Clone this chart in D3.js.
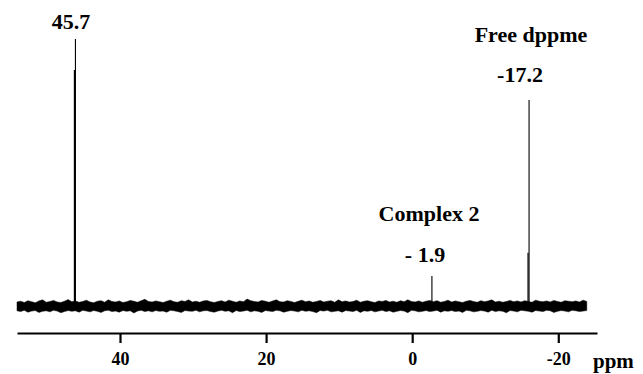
<!DOCTYPE html>
<html>
<head>
<meta charset="utf-8">
<script src="https://cdn.jsdelivr.net/npm/d3@7"></script>
<style>
    html, body { margin: 0; padding: 0; background: #fff; }
    svg { display: block; }
    text { font-family: "Liberation Serif", Tinos, "Times New Roman", Times, "Nimbus Roman", "DejaVu Serif", serif; font-weight: bold; fill: #000; }
</style>
</head>
<body>
<svg id="chart"></svg>
<script>
// axis ticks (ppm) and their labels
const tickValues = [40, 20, 0, -20];
const tickLabels = ['40', '20', '0', '-20'];

// signals: shift where the line is drawn, height (% of tallest), shoulder line height
const peakShift = [46.1, -2.7, -16.0];
const peakHeight = [100, 11.2, 77.2];
const shoulderHeight = [88.4, 0, 19.9];
const peakLabels = ['45.7', '- 1.9', '-17.2'];
const groupLabels = ['', 'Complex 2', 'Free dppme'];

// baseline noise envelope, one value every 0.5 ppm starting at 54.1 ppm
const noiseStart = 54.1;
const noiseStep = 0.5;
const noiseUpper = [
    1.5, 1.8, 1.3, 2.0, 1.6, 1.2, 1.9, 2.3, 1.4, 1.7, 2.1, 1.5, 1.3, 1.8, 2.4, 1.6, 1.9, 1.4, 1.7, 2.2,
    1.5, 1.2, 1.8, 2.0, 1.4, 2.3, 1.7, 1.5, 1.9, 1.3, 1.6, 2.1, 1.8, 1.4, 2.0, 2.5, 1.7, 1.5, 1.9, 1.6,
    1.3, 1.8, 2.2, 1.6, 1.4, 2.0, 1.7, 2.3, 1.5, 1.8, 1.4, 1.9, 2.1, 1.6, 1.3, 1.7, 2.0, 1.5, 2.2, 1.8,
    1.4, 1.9, 1.6, 2.6, 2.0, 1.7, 1.5, 2.1, 1.8, 1.4, 1.9, 2.3, 1.6, 1.5, 2.0, 1.7, 1.3, 1.8, 2.2, 1.6,
    1.9, 1.4, 1.7, 2.1, 1.5, 1.8, 2.0, 1.4, 2.3, 1.6, 1.9, 1.5, 1.7, 2.2, 1.4, 1.8, 2.0, 1.6, 1.3, 1.9,
    1.7, 2.1, 1.5, 1.8, 1.4, 2.0, 1.6, 2.3, 1.7, 1.5, 1.9, 1.4, 1.8, 2.1, 1.6, 2.0, 1.4, 1.7, 2.2, 1.5,
    1.9, 1.6, 1.3, 1.8, 2.1, 1.7, 1.4, 2.0, 1.6, 1.9, 2.3, 1.5, 1.8, 1.4, 1.7, 2.1, 1.6, 1.9, 1.5, 2.0,
    1.7, 1.4, 2.2, 1.8, 1.6, 1.9, 1.5, 2.1, 1.7, 1.4, 2.0, 1.8, 1.6, 1.9, 1.5, 2.2, 1.7
];
const noiseLower = [
    -1.8, -2.1, -1.6, -2.3, -1.9, -1.7, -2.4, -2.0, -1.8, -2.2, -1.6, -1.9, -2.5, -2.1, -1.7, -2.0, -1.8, -2.3, -1.6, -1.9,
    -2.2, -1.7, -2.0, -2.4, -1.8, -1.6, -2.1, -1.9, -2.3, -1.7, -2.0, -1.8, -2.6, -1.9, -1.6, -2.1, -1.8, -2.2, -1.7, -2.0,
    -1.9, -2.3, -1.6, -1.8, -2.1, -2.4, -1.7, -1.9, -2.0, -1.6, -2.2, -1.8, -1.7, -2.1, -2.3, -1.9, -1.6, -2.0, -1.8, -2.5,
    -1.7, -2.1, -1.9, -1.6, -2.2, -1.8, -2.0, -2.4, -1.7, -1.9, -2.1, -1.6, -1.8, -2.3, -2.0, -1.7, -1.9, -2.2, -1.6, -2.0,
    -1.8, -2.1, -2.5, -1.7, -1.9, -1.6, -2.2, -2.0, -1.8, -2.3, -1.7, -1.9, -2.1, -1.6, -2.4, -1.8, -2.0, -1.7, -2.2, -1.9,
    -1.6, -2.1, -1.8, -2.3, -2.0, -1.7, -1.9, -2.5, -1.6, -1.8, -2.2, -2.0, -1.7, -2.1, -1.9, -1.6, -2.3, -1.8, -2.0, -1.7,
    -2.1, -1.9, -2.4, -1.6, -1.8, -2.2, -2.0, -1.7, -1.9, -2.3, -1.6, -2.1, -1.8, -2.0, -2.5, -1.7, -1.9, -2.2, -1.6, -1.8,
    -2.0, -2.3, -1.7, -1.9, -2.1, -1.6, -1.8, -2.4, -2.0, -1.7, -1.9, -2.2, -1.6, -1.8, -2.1, -1.9, -1.7
];

const width = 643;
const height = 374;
const serif = '"Liberation Serif", Tinos, "Times New Roman", Times, "Nimbus Roman", "DejaVu Serif", serif';

const svg = d3.select('#chart')
    .attr('width', width)
    .attr('height', height);

// ppm runs right to left
const x = d3.scaleLinear().domain([54.1, -25.3]).range([17, 597]);
const y = d3.scaleLinear().domain([0, 100]).range([306, 39]);

// x axis
const axis = svg.append('g')
    .attr('class', 'axis axis-x')
    .attr('transform', 'translate(0, 333)')
    .call(d3.axisBottom(x)
        .tickValues(tickValues)
        .tickFormat((d, i) => tickLabels[i])
        .tickSize(10)
        .tickSizeOuter(0)
        .tickPadding(9));
axis.select('.domain').attr('stroke', '#000').attr('stroke-width', 2.2);
axis.selectAll('.tick line').attr('stroke', '#000').attr('stroke-width', 2.2);
axis.selectAll('.tick text')
    .attr('font-family', serif)
    .attr('font-weight', 'bold')
    .attr('font-size', 18)
    .attr('fill', '#000');

svg.append('text')
    .attr('x', 593)
    .attr('y', 368)
    .attr('font-family', serif)
    .attr('font-size', 21)
    .text('ppm');

// baseline noise band
const n = Math.min(noiseUpper.length, noiseLower.length);
const noise = d3.range(n).map(i => ({ ppm: noiseStart - i * noiseStep, hi: noiseUpper[i], lo: noiseLower[i] }));
svg.append('path')
    .datum(noise)
    .attr('d', d3.area().x(d => x(d.ppm)).y0(d => y(d.lo)).y1(d => y(d.hi)))
    .attr('fill', '#000')
    .attr('stroke', '#000')
    .attr('stroke-width', 0.5);

// peak lines
const line = d3.line().x(d => x(d[0])).y(d => y(d[1]));
peakShift.forEach((p, i) => {
    svg.append('path')
        .attr('d', line([[p, 0], [p, peakHeight[i]]]))
        .attr('stroke', '#000')
        .attr('stroke-width', 1.1)
        .attr('fill', 'none');
    if (shoulderHeight[i] > 0) {
        svg.append('path')
            .attr('d', line([[p + 0.14, 0], [p + 0.14, shoulderHeight[i]]]))
            .attr('stroke', '#000')
            .attr('stroke-width', 1.2)
            .attr('fill', 'none');
    }
});

// annotations
const labelPos = [[71, 29], [425, 262], [520, 82]];
const groupPos = [[0, 0], [429, 221], [531, 42]];
peakLabels.forEach((t, i) => {
    svg.append('text')
        .attr('x', labelPos[i][0])
        .attr('y', labelPos[i][1])
        .attr('text-anchor', 'middle')
        .attr('font-family', serif)
        .attr('font-size', 22)
        .text(t);
    if (groupLabels[i]) {
        svg.append('text')
            .attr('x', groupPos[i][0])
            .attr('y', groupPos[i][1])
            .attr('text-anchor', 'middle')
            .attr('font-family', serif)
            .attr('font-size', 22)
            .text(groupLabels[i]);
    }
});
</script>
</body>
</html>
